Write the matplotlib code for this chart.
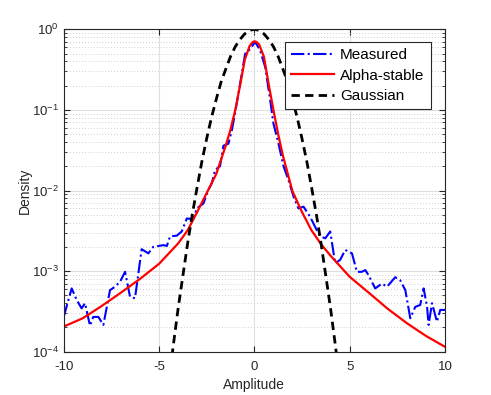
import matplotlib
matplotlib.use("Agg")
import matplotlib.pyplot as plt
from matplotlib.ticker import LogLocator, NullFormatter, FixedLocator

plt.rcParams['font.family'] = ['Liberation Sans', 'DejaVu Sans']
plt.rcParams['mathtext.fontset'] = 'custom'
plt.rcParams['mathtext.rm'] = 'Liberation Sans'
plt.rcParams['mathtext.it'] = 'Liberation Sans'
plt.rcParams['axes.unicode_minus'] = False

# Measured (blue dash-dot)
meas_x = [-10.0, -9.58, -9.32, -9.06, -8.88, -8.62, -8.45, -8.18, -7.92, -7.57,
          -7.31, -7.04, -6.78, -6.52, -6.26, -5.91, -5.56, -5.30, -4.77, -4.59,
          -4.42, -4.07, -3.81, -3.54, -3.20, -3.02, -2.67, -2.41, -2.23, -2.06,
          -1.80, -1.62, -1.36, -1.18, -1.01, -0.75, -0.48, -0.31, -0.15, 0.04,
          0.30, 0.57, 0.83, 1.00, 1.27, 1.53, 1.79, 2.05, 2.31, 2.58,
          2.93, 3.28, 3.46, 3.72, 3.98, 4.24, 4.50, 4.77, 5.12, 5.38,
          5.64, 5.82, 5.99, 6.34, 6.69, 6.96, 7.39, 7.65, 7.92, 8.18,
          8.44, 8.70, 8.88, 9.06, 9.14, 9.32, 9.58, 9.75, 10.0]
meas_y = [2.7e-4, 6.1e-4, 4.4e-4, 3.45e-4, 4.0e-4, 2.1e-4, 2.7e-4, 2.7e-4, 2.15e-4, 5.8e-4,
          6.4e-4, 7.4e-4, 9.8e-4, 4.8e-4, 4.6e-4, 1.87e-3, 1.66e-3, 2.0e-3, 2.1e-3, 2.05e-3,
          2.7e-3, 2.75e-3, 3.1e-3, 4.5e-3, 4.4e-3, 6.0e-3, 6.9e-3, 1.02e-2, 1.23e-2, 1.8e-2,
          2.0e-2, 3.6e-2, 3.8e-2, 5.6e-2, 9.1e-2, 0.21, 0.50, 0.54, 0.60, 0.70,
          0.55, 0.34, 0.133, 0.068, 0.038, 0.020, 0.0135, 0.0085, 6.0e-3, 6.3e-3,
          4.7e-3, 3.2e-3, 2.7e-3, 2.55e-3, 3.1e-3, 1.25e-3, 1.38e-3, 1.83e-3, 1.66e-3, 9.8e-4,
          9.8e-4, 1.03e-3, 8.9e-4, 6.1e-4, 7.0e-4, 6.4e-4, 8.4e-4, 7.7e-4, 5.8e-4, 2.6e-4,
          3.6e-4, 3.8e-4, 6.1e-4, 3.6e-4, 2.15e-4, 4.0e-4, 2.35e-4, 3.3e-4, 3.3e-4]

# Alpha-stable fit (red solid)
alpha_x = [-10, -9, -8, -7, -6, -5, -4, -3.5, -3, -2.5, -2, -1.5, -1.25, -1, -0.75,
           -0.5, -0.25, -0.1, 0, 0.1, 0.25, 0.5, 0.75, 1, 1.25, 1.5, 2, 2.5, 3, 3.5, 4,
           5, 6, 7, 8, 9, 10]
alpha_y = [2.05e-4, 2.6e-4, 3.7e-4, 5.4e-4, 8.0e-4, 1.23e-3, 2.2e-3, 3.2e-3, 5.4e-3, 9.3e-3,
           0.016, 0.036, 0.057, 0.10, 0.20, 0.42, 0.62, 0.69, 0.71, 0.70, 0.65, 0.46,
           0.21, 0.10, 0.05, 0.027, 0.0098, 5.4e-3, 3.2e-3, 2.16e-3, 1.55e-3,
           8.5e-4, 5.4e-4, 3.4e-4, 2.26e-4, 1.57e-4, 1.15e-4]

# Gaussian fit (black dashed)
gauss_x = [-4.5, -4.25, -4.0, -3.75, -3.5, -3.25, -3.0, -2.75, -2.5, -2.25, -2.0,
           -1.75, -1.5, -1.25, -1.0, -0.75, -0.5, -0.25, 0.0, 0.25, 0.5, 0.75,
           1.0, 1.25, 1.5, 1.75, 2.0, 2.25, 2.5, 2.75, 3.0, 3.25, 3.5, 3.75,
           4.0, 4.25, 4.5]
gauss_y = [4.0e-5, 1.2e-4, 3.4e-4, 8.7e-4, 2.2e-3, 5.1e-3, 0.011, 0.023, 0.044, 0.080, 0.135,
           0.22, 0.32, 0.46, 0.61, 0.75, 0.88, 0.97, 1.0, 0.97, 0.88, 0.75,
           0.61, 0.46, 0.32, 0.22, 0.135, 0.080, 0.044, 0.023, 0.011, 5.1e-3, 2.2e-3, 8.7e-4,
           3.4e-4, 1.2e-4, 4.0e-5]

x_ticks = [-10, -5, 0, 5, 10]

fig = plt.figure(figsize=(4.91, 3.95), dpi=100)
ax = fig.add_axes([0.1297, 0.1096, 0.7766, 0.8162])

ax.plot(meas_x, meas_y, color='#0000ff', linestyle='-.', linewidth=1.5, label='Measured')
ax.plot(alpha_x, alpha_y, color='#ff0000', linestyle='-', linewidth=1.6, label='Alpha-stable')
ax.plot(gauss_x, gauss_y, color='black', linestyle=(0, (3.0, 1.9)), linewidth=2.0, label='Gaussian')

ax.set_yscale('log')
ax.set_xlim(-10, 10)
ax.set_ylim(1e-4, 1)
ax.xaxis.set_major_locator(FixedLocator(x_ticks))
ax.yaxis.set_major_locator(LogLocator(base=10, numticks=10))
ax.yaxis.set_minor_locator(LogLocator(base=10, subs=range(2, 10), numticks=20))
ax.yaxis.set_minor_formatter(NullFormatter())

ax.grid(True, which='major', color='#dedede', linewidth=0.8, linestyle='-')
ax.grid(True, which='minor', axis='y', color='#c0c0c0', linewidth=0.6, linestyle=(0, (1, 2.5)))
ax.set_axisbelow(True)

for s in ax.spines.values():
    s.set_color('#262626')
    s.set_linewidth(0.8)
ax.tick_params(which='both', direction='in', top=True, right=True, colors='#262626',
               labelsize=9.5, labelcolor='#262626')
ax.tick_params(which='major', length=4)
ax.tick_params(which='minor', length=2)
ax.tick_params(axis='x', pad=7)

ax.set_xlabel('Amplitude', fontsize=10, color='#262626', labelpad=3)
ax.set_ylabel('Density', fontsize=10, color='#262626', labelpad=0)

leg = ax.legend(loc='upper right', bbox_to_anchor=(0.962, 0.96), fontsize=11,
                frameon=True, fancybox=False, edgecolor='#262626', framealpha=1,
                handlelength=2.8, borderpad=0.4, labelspacing=0.42, handletextpad=0.4,
                borderaxespad=0.0)
leg.get_frame().set_linewidth(0.8)

fig.savefig('out.png', dpi=100)
